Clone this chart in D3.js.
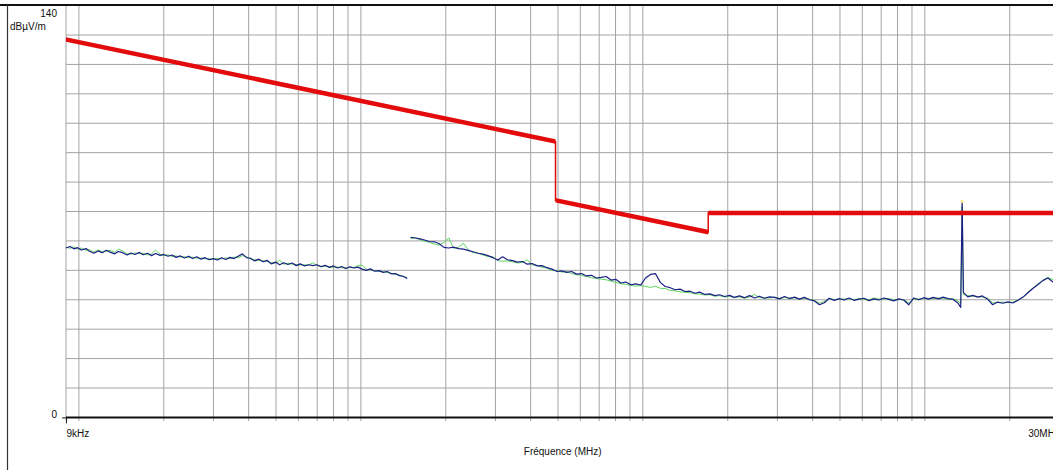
<!DOCTYPE html>
<html>
<head>
<meta charset="utf-8">
<style>
  body { margin: 0; background: #fff; }
  svg { display: block; font-family: 'Liberation Sans', Arial, sans-serif; }
</style>
</head>
<body>
<div id="chart"></div>
<script src="https://d3js.org/d3.v7.min.js"></script>
<script>
  // limit line, kHz / dBµV/m
  const limitFreq = [9, 490, 490, 1705, 1705, 30000];
  const limitLevel = [128.5, 93.8, 73.8, 63.0, 69.5, 69.5];

  // sweep 1 : 9 kHz - 150 kHz
  const sweep1Freq = [
    9, 9.3, 9.6, 9.9, 10.2, 10.6, 10.9, 11.3, 11.7, 12.1,
    12.5, 12.9, 13.4, 13.8, 14.3, 14.8, 15.3, 15.8, 16.4, 16.9,
    17.5, 18.1, 18.7, 19.4, 20.0, 20.7, 21.4, 22.1, 22.9, 23.7,
    24.5, 25.3, 26.2, 27.1, 28.0, 29.0, 30.0, 31.0, 32.1, 33.2,
    34.3, 35.5, 36.7, 38.0, 39.3, 40.6, 42.0, 43.5, 45.0, 46.5,
    48.1, 49.8, 51.5, 53.3, 55.1, 57.0, 59.0, 61.0, 63.1, 65.3,
    67.5, 69.8, 72.2, 74.7, 77.3, 80.0, 82.7, 85.5, 88.4, 91.4,
    94.5, 97.7, 101, 104.5, 108, 112, 116, 120, 124, 128,
    132.5, 137, 141.5, 146
  ];
  const sweep1Blue = [
    57.6, 58.1, 57.3, 57.7, 56.9, 57.4, 56.5, 55.8, 56.6, 56.0,
    56.8, 56.2, 55.6, 56.4, 56.0, 55.2, 55.9, 55.4, 56.1, 55.3,
    55.8, 55.0, 55.7, 55.1, 55.4, 54.8, 55.2, 54.4, 54.9, 54.2,
    54.8, 54.0, 54.6, 53.8, 54.3, 53.6, 54.0, 53.5, 54.3, 53.7,
    54.4, 54.0, 54.8, 55.6, 54.3, 54.1, 53.2, 53.8, 52.9, 53.4,
    52.2, 52.8, 51.9, 52.6, 52.0, 52.5, 51.6, 52.2, 51.5, 51.9,
    51.6, 51.9, 51.2, 51.7, 51.0, 51.5, 50.8, 51.3, 50.6, 51.2,
    50.8, 51.1, 50.4, 50.0, 50.5, 49.7, 49.9, 49.3, 49.6, 48.8,
    48.9, 48.2, 47.9, 47.2
  ];
  const sweep1Green = [
    57.9, 57.5, 58.0, 57.2, 57.6, 56.8, 57.0, 56.2, 56.9, 56.3,
    56.5, 56.8, 56.1, 57.2, 56.6, 55.6, 55.5, 55.9, 55.6, 55.8,
    55.2, 55.6, 56.9, 55.4, 55.0, 55.3, 54.7, 54.9, 54.5, 54.6,
    54.3, 54.5, 54.1, 54.2, 53.9, 54.0, 53.7, 54.1, 53.9, 54.2,
    54.0, 54.5, 54.3, 55.0, 54.6, 53.8, 53.6, 53.4, 53.2, 53.0,
    52.6, 52.4, 53.4, 52.1, 52.4, 52.1, 52.0, 51.8, 51.9, 51.7,
    52.6, 51.6, 51.4, 51.3, 51.2, 51.0, 51.1, 50.9, 50.8, 51.0,
    51.0, 51.6, 51.8, 50.4, 50.1, 49.9, 49.6, 49.5, 49.3, 49.0,
    48.6, 48.4, 48.0, 47.4
  ];

  // sweep 2 : 150 kHz - 30 MHz
  const sweep2Freq = [
    150, 156, 162, 168, 175, 182, 189, 197, 205, 213,
    222, 231, 240, 250, 260, 271, 282, 294, 306, 318,
    331, 345, 359, 374, 389, 405, 422, 439, 457, 476,
    496, 516, 537, 559, 582, 606, 631, 657, 684, 712,
    741, 771, 803, 836, 870, 906, 943, 982, 1022, 1064,
    1108, 1153, 1200, 1250, 1300, 1355, 1410, 1470, 1530, 1590,
    1660, 1730, 1800, 1870, 1950, 2030, 2110, 2200, 2290, 2390,
    2490, 2590, 2700, 2810, 2930, 3050, 3180, 3310, 3450, 3590,
    3740, 3900, 4060, 4230, 4400, 4580, 4770, 4970, 5180, 5390,
    5610, 5840, 6080, 6340, 6600, 6870, 7160, 7450, 7760, 8090,
    8420, 8770, 9130, 9510, 9910, 10300, 10700, 11200, 11600, 12100,
    12600, 13100, 13400, 13560, 13700, 14200, 14800, 15400, 16000, 16700,
    17400, 18100, 18900, 19700, 20500, 21400, 22300, 23200, 24200, 25200,
    26200, 27300, 28500, 29700, 30000
  ];
  const sweep2Blue = [
    61.2, 61.0, 60.7, 60.3, 59.8, 59.7, 59.1, 57.8, 57.6, 57.9,
    57.4, 57.2, 56.8, 56.3, 55.8, 55.5, 55.0, 54.3, 53.5, 54.6,
    53.6, 53.3, 52.8, 53.0, 52.1, 52.3, 51.5, 51.6, 50.9, 50.4,
    49.6, 49.8, 49.3, 49.6, 48.7, 48.9, 48.1, 48.3, 47.4, 47.6,
    47.9, 46.7, 46.9, 45.7, 46.0, 45.1, 45.4, 45.0, 47.4, 48.6,
    48.9, 45.9, 44.5, 44.1, 43.4, 43.6, 42.8, 42.9, 42.2, 42.6,
    41.8, 42.0, 41.4, 41.7, 41.1, 41.5, 40.8, 41.3, 40.7, 41.4,
    40.6, 41.2, 40.5, 41.0, 40.8, 40.3, 41.1, 40.4, 40.9, 40.2,
    40.8, 40.0, 39.6, 38.3, 39.0, 40.5, 39.8, 40.4, 39.9, 40.6,
    39.8, 40.2, 40.5, 39.7, 40.3, 39.9, 40.6, 40.1, 39.6, 40.3,
    39.9, 38.3, 40.6, 40.0, 40.7, 40.2, 40.8, 40.3, 40.9, 40.4,
    40.1, 38.9, 37.4, 73.4, 42.5, 41.0, 41.5, 40.9, 41.3, 40.2,
    38.3, 39.2, 38.8, 39.3, 38.9, 39.8, 40.9, 42.4, 43.9, 45.2,
    46.5, 47.4, 46.0, 45.5, 45.4
  ];
  const sweep2Green = [
    60.8, 61.1, 60.4, 59.9, 59.5, 58.9, 58.6, 59.5, 61.0, 57.5,
    57.9, 59.2, 57.0, 56.0, 55.9, 55.2, 54.7, 54.6, 53.3, 53.1,
    53.2, 52.9, 52.5, 52.7, 53.6, 51.8, 51.7, 51.0, 50.8, 49.9,
    50.0, 49.4, 49.6, 48.9, 48.5, 48.3, 47.9, 47.5, 47.2, 47.0,
    46.8, 46.3, 45.9, 45.4, 45.2, 44.9, 44.6, 44.8, 44.5, 44.2,
    44.6, 43.9, 43.8, 43.2, 43.0, 42.7, 42.5, 42.4, 42.0, 41.9,
    41.6, 41.7, 41.2, 41.4, 40.9, 41.2, 40.7, 41.0, 40.5, 40.9,
    41.8, 40.7, 40.6, 40.6, 40.9, 40.5, 40.7, 40.6, 40.6, 40.3,
    40.5, 40.2, 39.8, 38.8, 39.4, 40.3, 40.1, 40.1, 40.3, 40.2,
    40.0, 40.4, 40.1, 40.0, 40.6, 40.2, 40.3, 40.4, 40.0, 40.1,
    40.0, 38.9, 40.2, 40.3, 40.4, 40.5, 40.4, 40.6, 40.5, 40.2,
    40.3, 39.5, 38.6, 72.0, 41.8, 41.4, 41.2, 41.1, 40.9, 40.5,
    38.9, 39.1, 39.2, 39.0, 39.2, 39.9, 40.9, 42.6, 44.0, 45.4,
    46.6, 47.6, 46.8, 46.0, 45.8
  ];

  const markerFreq = [13560];
  const markerLevel = [73.4];

  const gridFreq = [
    10, 20, 30, 40, 50, 60, 70, 80, 90,
    100, 200, 300, 400, 500, 600, 700, 800, 900,
    1000, 2000, 3000, 4000, 5000, 6000, 7000, 8000, 9000,
    10000, 20000
  ];
  const gridLevel = [10, 20, 30, 40, 50, 60, 70, 80, 90, 100, 110, 120, 130];
  const yTicks = [0, 140];
  const xTicks = [9, 30000];
  const xTickLabels = ['9kHz', '30MHz'];

  const width = 1053, height = 470;
  const svg = d3.select('#chart').append('svg')
    .attr('width', width)
    .attr('height', height);

  const x = d3.scaleLog().domain([9, 30000]).range([66, 1059.4]);
  const y = d3.scaleLinear().domain([0, 140]).range([417.4, 5.6]);

  const zip = (fs, vs) => fs.map((f, i) => ({ f: f, v: vs[i] }));

  // grid
  const grid = svg.append('g').attr('stroke', '#a3a3a3').attr('stroke-width', 1);
  grid.selectAll('.vgrid')
    .data([9].concat(gridFreq))
    .enter().append('line')
    .attr('x1', d => x(d)).attr('x2', d => x(d))
    .attr('y1', y(140)).attr('y2', 421);
  grid.selectAll('.hgrid')
    .data(gridLevel)
    .enter().append('line')
    .attr('x1', x(9)).attr('x2', width)
    .attr('y1', d => y(d)).attr('y2', d => y(d));

  // traces
  const line = d3.line().x(d => x(d.f)).y(d => y(d.v));
  const traces = [
    { data: zip(sweep1Freq, sweep1Green), color: '#5cd65c', w: 1 },
    { data: zip(sweep2Freq, sweep2Green), color: '#5cd65c', w: 1 },
    { data: zip(sweep1Freq, sweep1Blue), color: '#1c1f86', w: 1.2 },
    { data: zip(sweep2Freq, sweep2Blue), color: '#1c1f86', w: 1.2 }
  ];
  svg.selectAll('.trace')
    .data(traces)
    .enter().append('path')
    .attr('class', 'trace')
    .attr('d', d => line(d.data))
    .attr('fill', 'none')
    .attr('stroke', d => d.color)
    .attr('stroke-width', d => d.w)
    .attr('stroke-linejoin', 'round');

  svg.selectAll('.marker')
    .data(zip(markerFreq, markerLevel))
    .enter().append('circle')
    .attr('cx', d => x(d.f))
    .attr('cy', d => y(d.v))
    .attr('r', 1.6)
    .attr('fill', '#f2e58a');

  // limit: thick in y only, thin on the jumps
  const limit = zip(limitFreq, limitLevel);
  svg.append('path')
    .attr('d', line(limit))
    .attr('fill', 'none')
    .attr('stroke', '#e30b0b')
    .attr('stroke-width', 1.5);
  svg.append('path')
    .attr('d', d3.area().x(d => x(d.f)).y0(d => y(d.v) - 2.3).y1(d => y(d.v) + 2.3)(limit))
    .attr('fill', '#e30b0b');

  // frame
  svg.append('line')
    .attr('x1', 0).attr('x2', width).attr('y1', 5).attr('y2', 5)
    .attr('stroke', '#111').attr('stroke-width', 2);
  svg.append('line')
    .attr('x1', 7.5).attr('x2', 7.5).attr('y1', 5).attr('y2', height)
    .attr('stroke', '#333').attr('stroke-width', 1.2);

  // axes
  const yAxis = svg.append('g')
    .attr('transform', 'translate(' + x(9) + ',0)')
    .call(d3.axisLeft(y).tickValues(yTicks).tickSize(4).tickPadding(5));
  yAxis.select('.domain').remove();
  yAxis.selectAll('.tick line').attr('stroke', '#222').attr('opacity', d => d === 140 ? 0 : 1);
  yAxis.selectAll('.tick text')
    .attr('font-size', '10px')
    .attr('font-family', "'Liberation Sans', Arial, sans-serif")
    .attr('fill', '#111')
    .attr('dy', d => d === 140 ? 11.4 : -0.4);

  const xAxis = svg.append('g')
    .attr('transform', 'translate(0,' + y(0) + ')')
    .call(d3.axisBottom(x).tickValues(xTicks).tickSize(6)
      .tickFormat((d, i) => xTickLabels[i]));
  xAxis.select('.domain').remove();
  xAxis.selectAll('.tick line').attr('stroke', '#222');
  xAxis.selectAll('.tick text')
    .attr('font-size', '10px')
    .attr('font-family', "'Liberation Sans', Arial, sans-serif")
    .attr('fill', '#111')
    .attr('y', 13)
    .attr('text-anchor', (d, i) => i === 0 ? 'start' : 'end');
  svg.append('line')
    .attr('x1', x(9)).attr('x2', width)
    .attr('y1', y(0)).attr('y2', y(0))
    .attr('stroke', '#111').attr('stroke-width', 2);

  svg.append('text')
    .attr('x', 10).attr('y', 30)
    .attr('font-size', '10px')
    .attr('fill', '#111')
    .text('dBµV/m');

  svg.append('text')
    .attr('x', (x(9) + x(30000)) / 2).attr('y', 455)
    .attr('text-anchor', 'middle')
    .attr('font-size', '10px')
    .attr('fill', '#111')
    .text('Fréquence (MHz)');
</script>
</body>
</html>
